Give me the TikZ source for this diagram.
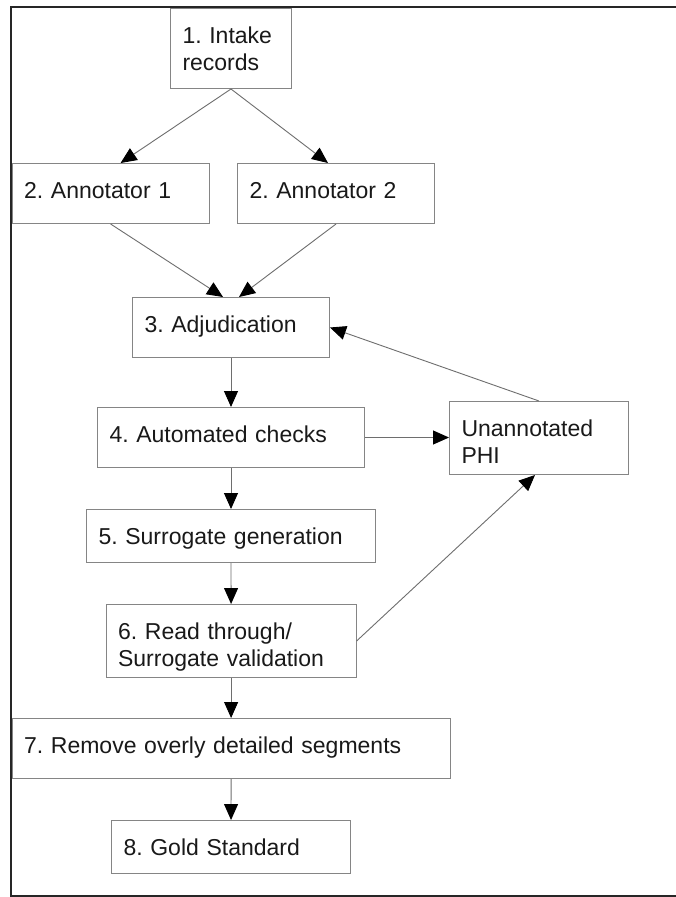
\documentclass[tikz,border=0pt]{standalone}
\usepackage{fontspec}
\setmainfont{Liberation Sans}
\usetikzlibrary{arrows.meta}
\definecolor{boxgray}{HTML}{858585}
\definecolor{linkgray}{HTML}{6E6E6E}
\definecolor{framegray}{HTML}{262626}
\frenchspacing
\begin{document}
\begin{tikzpicture}[
  x=1pt,
  y=-1pt,
  line join=miter,
  stage/.style 2 args={draw=boxgray,line width=1pt,anchor=north west,
    align=left,inner xsep=12pt,inner ysep=0pt,text height=35pt,
    text width=#1,text depth=#2,text=black!90,
    font=\fontsize{23}{26.5}\selectfont},
  link/.style={draw=linkgray,line width=0.9pt,
    -{Triangle[length=16pt,width=14pt,color=black]}},
  outline/.style={draw=framegray,line width=1.8pt}
]
  \fill[white] (0,0) rectangle (676,897);
  \useasboundingbox (0,0) rectangle (676,897);
  % outer frame, open on the right
  \draw[outline] (676,7) -- (11,7) -- (11,896) -- (676,896);

  % the stages
  \node[stage={97pt}{45pt}] (intake) at (170,8) {1. Intake\\records};
  \node[stage={173pt}{25pt}] (annotone) at (11.6,163) {2. Annotator 1};
  \node[stage={173pt}{25pt}] (annottwo) at (237,163) {2. Annotator 2};
  \node[stage={173pt}{25pt}] (adjud) at (132,297) {3. Adjudication};
  \node[stage={243pt}{25pt}] (checks) at (97,407) {4. Automated checks};
  \node[stage={155pt}{38pt}] (phi) at (449,401) {Unannotated\\PHI};
  \node[stage={265pt}{18pt}] (surrog) at (86,509) {5. Surrogate generation};
  \node[stage={226pt}{38pt}] (readthru) at (105.6,604)
    {6. Read through/\\Surrogate validation};
  \node[stage={414pt}{25pt}] (remove) at (11.6,718)
    {7. Remove overly detailed segments};
  \node[stage={215pt}{18pt}] (gold) at (111,820) {8. Gold Standard};

  % main flow
  \draw[link] (intake.south) -- ([xshift=10pt]annotone.north);
  \draw[link] (intake.south) -- ([xshift=-8pt]annottwo.north);
  \draw[link] (annotone.south) -- ([xshift=-8pt]adjud.north);
  \draw[link] (annottwo.south) -- ([xshift=8pt]adjud.north);
  \draw[link] (adjud) -- (checks);
  \draw[link] (checks) -- (surrog);
  \draw[link] (surrog) -- (readthru);
  \draw[link] (readthru) -- (remove);
  \draw[link] (remove) -- (gold);

  % feedback through unannotated PHI
  \draw[link] (checks.east) -- (checks.east -| phi.west);
  \draw[link] (phi.north) -- (adjud.east);
  \draw[link] (readthru.east) -- ([xshift=-4pt]phi.south);
\end{tikzpicture}
\end{document}
